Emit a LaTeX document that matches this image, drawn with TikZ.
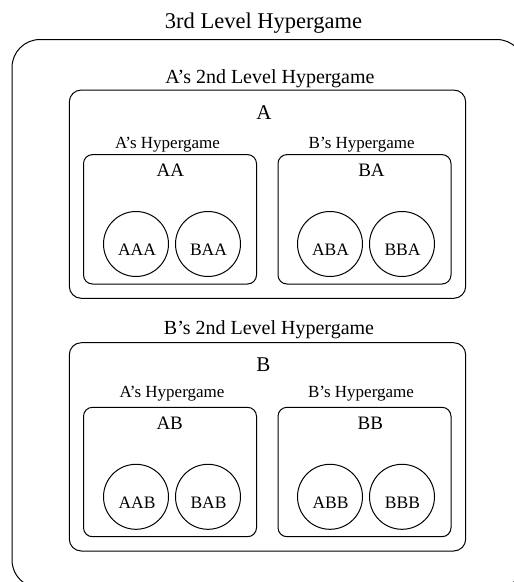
\documentclass[tikz,border=0pt]{standalone}
\usepackage{fontspec}
\setmainfont{Liberation Serif}
\usetikzlibrary{positioning}

\tikzset{
  outerbox/.style={draw,rounded corners=28pt,line width=1pt,minimum width=512.7pt,minimum height=548.5pt},
  levelbox/.style={draw,rounded corners=12pt,line width=1pt,minimum width=396.4pt,minimum height=208.3pt},
  gamebox/.style={draw,rounded corners=9pt,line width=1pt,minimum width=173pt,minimum height=129.4pt},
  player/.style={draw,circle,line width=1pt,minimum size=65pt,inner sep=0pt},
  txt/.style={anchor=base,inner sep=0pt},
  bigtxt/.style={txt,font=\fontsize{22.5}{24}\selectfont},
  leveltxt/.style={txt,font=\fontsize{20}{22}\selectfont},
  whotxt/.style={txt,font=\fontsize{21}{23}\selectfont},
  gametxt/.style={txt,font=\fontsize{17}{19}\selectfont},
  subtxt/.style={txt,font=\fontsize{19}{21}\selectfont},
  playertxt/.style={txt,font=\fontsize{17.5}{19}\selectfont}
}

\begin{document}
\begin{tikzpicture}[x=1pt,y=-1pt]
  \useasboundingbox (0,0) rectangle (514,582);
  \clip (0,0) rectangle (514,582);
  % 3rd level
  \node[bigtxt] at (263.5,28.4) (title) {3rd Level Hypergame};
  \node[outerbox] at (268.35,313.75) (third) {};
  % A's 2nd level
  \node[leveltxt] at (270,83) (lvlA) {A’s 2nd Level Hypergame};
  \node[levelbox] at (267.5,194.15) (A) {};
  \node[whotxt] at (264,119) (nameA) {A};
  \node[gametxt] at (167.5,148.5) (hypAA) {A’s Hypergame};
  \node[gametxt] at (361.7,148.5) (hypBA) {B’s Hypergame};
  \node[gamebox] at (170,219.3) (AA) {};
  \node[gamebox] at (364.5,219.3) (BA) {};
  \node[subtxt] at (170.3,176.7) (nameAA) {AA};
  \node[subtxt] at (371.5,176.7) (nameBA) {BA};
  \node[player] at (136,244) (AAA) {};
  \node[player] at (208,244) (BAA) {};
  \node[player] at (330,244) (ABA) {};
  \node[player] at (402,244) (BBA) {};
  \node[playertxt] at (137,255.5) (nameAAA) {AAA};
  \node[playertxt] at (208.5,255.5) (nameBAA) {BAA};
  \node[playertxt] at (330.5,255.5) (nameABA) {ABA};
  \node[playertxt] at (402.5,255.5) (nameBBA) {BBA};
  % B's 2nd level
  \node[leveltxt] at (269,334.5) (lvlB) {B’s 2nd Level Hypergame};
  \node[levelbox] at (267.5,446.85) (B) {};
  \node[whotxt] at (263.5,371) (nameB) {B};
  \node[gametxt] at (172,397.5) (hypAB) {A’s Hypergame};
  \node[gametxt] at (361,397.5) (hypBB) {B’s Hypergame};
  \node[gamebox] at (170,472) (AB) {};
  \node[gamebox] at (364.5,472) (BB) {};
  \node[subtxt] at (169.7,429.3) (nameAB) {AB};
  \node[subtxt] at (370.3,429.3) (nameBB) {BB};
  \node[player] at (136,496.8) (AAB) {};
  \node[player] at (208,496.8) (BAB) {};
  \node[player] at (330,496.8) (ABB) {};
  \node[player] at (402,496.8) (BBB) {};
  \node[playertxt] at (137,508.3) (nameAAB) {AAB};
  \node[playertxt] at (208.5,508.3) (nameBAB) {BAB};
  \node[playertxt] at (330.5,508.3) (nameABB) {ABB};
  \node[playertxt] at (402.5,508.3) (nameBBB) {BBB};
\end{tikzpicture}
\end{document}
